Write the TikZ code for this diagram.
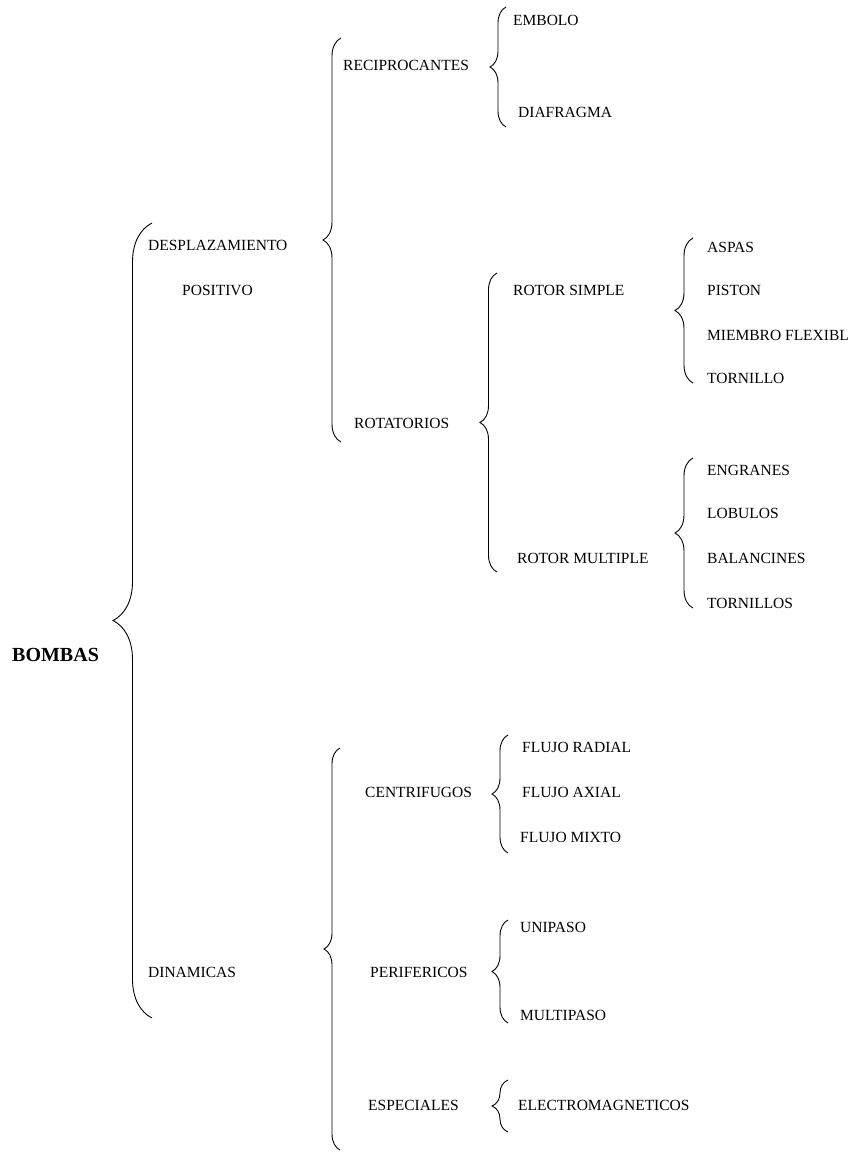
\documentclass[tikz,border=0pt]{standalone}
\usepackage{fontspec}
\setmainfont{Liberation Serif}
\usetikzlibrary{decorations.pathreplacing}

\tikzset{
  lbl/.style={anchor=west, inner sep=0pt, font=\fontsize{15.5}{18}\selectfont, text height=10pt, text depth=0pt},
  brc/.style={decorate, decoration={brace, amplitude=#1}, line width=0.9pt},
}

\begin{document}
\begin{tikzpicture}[x=1pt, y=-1pt]
  \useasboundingbox (0,0) rectangle (853,1154);

  % root and first level
  \node[lbl, font=\bfseries\fontsize{20}{24}\selectfont, text height=13pt] (bombas) at (12,655) {BOMBAS};
  \node[lbl] (despl) at (148,245) {DESPLAZAMIENTO};
  \node[lbl] (posit) at (182,290) {POSITIVO};
  \node[lbl] (dinam) at (148,972) {DINAMICAS};

  % desplazamiento positivo
  \node[lbl] (recip) at (343,65)  {RECIPROCANTES};
  \node[lbl] (rotat) at (354,423) {ROTATORIOS};
  \node[lbl] (embolo) at (513,20)  {EMBOLO};
  \node[lbl] (diafr)  at (518,112) {DIAFRAGMA};
  \node[lbl] (rsimple) at (513,290) {ROTOR SIMPLE};
  \node[lbl] (rmult)   at (517,558) {ROTOR MULTIPLE};
  \node[lbl] (aspas)    at (707,247) {ASPAS};
  \node[lbl] (piston)   at (707,290) {PISTON};
  \node[lbl] (miembro)  at (707,335) {MIEMBRO FLEXIBL};
  \node[lbl] (tornillo) at (707,378) {TORNILLO};
  \node[lbl] (engranes)  at (707,470) {ENGRANES};
  \node[lbl] (lobulos)   at (707,513) {LOBULOS};
  \node[lbl] (balanc)    at (707,558) {BALANCINES};
  \node[lbl] (tornillos) at (707,603) {TORNILLOS};

  % dinamicas
  \node[lbl] (centrif) at (365,792)  {CENTRIFUGOS};
  \node[lbl] (perif)   at (370,972)  {PERIFERICOS};
  \node[lbl] (espec)   at (368,1105) {ESPECIALES};
  \node[lbl] (fradial) at (522,747) {FLUJO RADIAL};
  \node[lbl] (faxial)  at (522,792) {FLUJO AXIAL};
  \node[lbl] (fmixto)  at (520,837) {FLUJO MIXTO};
  \node[lbl] (unipaso)   at (520,927)  {UNIPASO};
  \node[lbl] (multipaso) at (520,1015) {MULTIPASO};
  \node[lbl] (electro)   at (518,1105) {ELECTROMAGNETICOS};

  % brace ends
  \coordinate (bombasT) at (152,223);   \coordinate (bombasB) at (152,1018);
  \coordinate (desplT)  at (341,38);    \coordinate (desplB)  at (341,442);
  \coordinate (recipT)  at (506,7);     \coordinate (recipB)  at (506,127);
  \coordinate (rotatT)  at (497,273);   \coordinate (rotatB)  at (497,572);
  \coordinate (rsimpleT) at (693,238);  \coordinate (rsimpleB) at (693,383);
  \coordinate (rmultT)  at (693,458);   \coordinate (rmultB)  at (693,608);
  \coordinate (dinamT)  at (340,748);   \coordinate (dinamB)  at (340,1150);
  \coordinate (centrifT) at (508,735);  \coordinate (centrifB) at (508,853);
  \coordinate (perifT)  at (508,920);   \coordinate (perifB)  at (508,1023);
  \coordinate (especT)  at (508,1080);  \coordinate (especB)  at (508,1132);

  \draw[brc=39pt] (bombasB) -- (bombasT);
  \draw[brc=18pt] (desplB) -- (desplT);
  \draw[brc=16pt] (recipB) -- (recipT);
  \draw[brc=17pt] (rotatB) -- (rotatT);
  \draw[brc=18pt] (rsimpleB) -- (rsimpleT);
  \draw[brc=18pt] (rmultB) -- (rmultT);
  \draw[brc=16pt] (dinamB) -- (dinamT);
  \draw[brc=16pt] (centrifB) -- (centrifT);
  \draw[brc=16pt] (perifB) -- (perifT);
  \draw[brc=16pt] (especB) -- (especT);
\end{tikzpicture}
\end{document}
